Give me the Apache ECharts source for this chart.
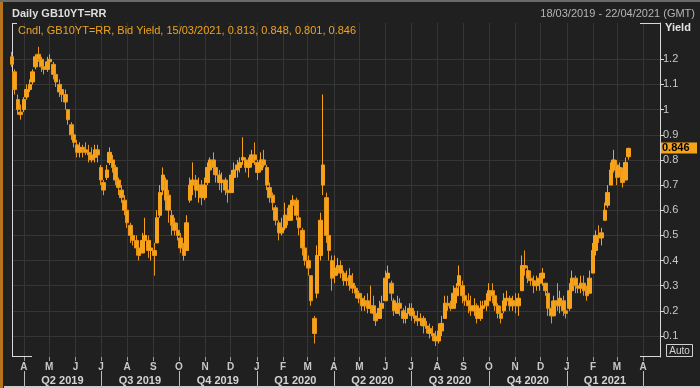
<!DOCTYPE html>
<html><head><meta charset="utf-8">
<script src="https://cdn.jsdelivr.net/npm/echarts@6/dist/echarts.min.js"></script>
<style>html,body{margin:0;padding:0;background:#202020;}#c{width:700px;height:388px;}</style>
</head><body><div id="c"></div>
<script>
const dates = [
'2019-03-18','2019-03-21','2019-03-25','2019-03-28','2019-04-01','2019-04-04','2019-04-08','2019-04-11','2019-04-15','2019-04-18','2019-04-22','2019-04-25','2019-04-29',
'2019-05-02','2019-05-06','2019-05-09','2019-05-13','2019-05-16','2019-05-20','2019-05-23','2019-05-27','2019-05-30',
'2019-06-03','2019-06-06','2019-06-10','2019-06-13','2019-06-17','2019-06-20','2019-06-24','2019-06-27',
'2019-07-01','2019-07-04','2019-07-08','2019-07-11','2019-07-15','2019-07-18','2019-07-22','2019-07-25','2019-07-29',
'2019-08-01','2019-08-05','2019-08-08','2019-08-12','2019-08-15','2019-08-19','2019-08-22','2019-08-26','2019-08-29',
'2019-09-02','2019-09-05','2019-09-09','2019-09-12','2019-09-16','2019-09-19','2019-09-23','2019-09-26','2019-09-30',
'2019-10-03','2019-10-07','2019-10-10','2019-10-14','2019-10-17','2019-10-21','2019-10-24','2019-10-28','2019-10-31',
'2019-11-04','2019-11-07','2019-11-11','2019-11-14','2019-11-18','2019-11-21','2019-11-25','2019-11-28',
'2019-12-02','2019-12-05','2019-12-09','2019-12-12','2019-12-16','2019-12-19','2019-12-23','2019-12-26','2019-12-30',
'2020-01-02','2020-01-06','2020-01-09','2020-01-13','2020-01-16','2020-01-20','2020-01-23','2020-01-27','2020-01-30',
'2020-02-03','2020-02-06','2020-02-10','2020-02-13','2020-02-17','2020-02-20','2020-02-24','2020-02-27',
'2020-03-02','2020-03-05','2020-03-09','2020-03-12','2020-03-16','2020-03-19','2020-03-23','2020-03-26','2020-03-30',
'2020-04-02','2020-04-06','2020-04-09','2020-04-13','2020-04-16','2020-04-20','2020-04-23','2020-04-27','2020-04-30',
'2020-05-04','2020-05-07','2020-05-11','2020-05-14','2020-05-18','2020-05-21','2020-05-25','2020-05-28',
'2020-06-01','2020-06-04','2020-06-08','2020-06-11','2020-06-15','2020-06-18','2020-06-22','2020-06-25','2020-06-29',
'2020-07-02','2020-07-06','2020-07-09','2020-07-13','2020-07-16','2020-07-20','2020-07-23','2020-07-27','2020-07-30',
'2020-08-03','2020-08-06','2020-08-10','2020-08-13','2020-08-17','2020-08-20','2020-08-24','2020-08-27','2020-08-31',
'2020-09-03','2020-09-07','2020-09-10','2020-09-14','2020-09-17','2020-09-21','2020-09-24','2020-09-28',
'2020-10-01','2020-10-05','2020-10-08','2020-10-12','2020-10-15','2020-10-19','2020-10-22','2020-10-26','2020-10-29',
'2020-11-02','2020-11-05','2020-11-09','2020-11-12','2020-11-16','2020-11-19','2020-11-23','2020-11-26','2020-11-30',
'2020-12-03','2020-12-07','2020-12-10','2020-12-14','2020-12-17','2020-12-21','2020-12-24','2020-12-28','2020-12-31',
'2021-01-04','2021-01-07','2021-01-11','2021-01-14','2021-01-18','2021-01-21','2021-01-25','2021-01-28',
'2021-02-01','2021-02-04','2021-02-08','2021-02-11','2021-02-15','2021-02-18','2021-02-22','2021-02-25',
'2021-03-01','2021-03-04','2021-03-08','2021-03-11','2021-03-15'
];
const opens = [
1.21,1.15,1.04,0.99,1.00,1.05,1.08,1.11,1.17,1.22,
1.20,1.17,1.16,1.19,1.18,1.14,1.10,1.08,1.06,1.00,
0.94,0.90,0.86,0.83,0.85,0.84,0.83,0.82,0.81,0.84,
0.77,0.71,0.73,0.79,0.80,0.77,0.72,0.68,0.64,0.60,
0.54,0.50,0.48,0.45,0.43,0.48,0.48,0.44,0.44,0.47,
0.58,0.68,0.72,0.66,0.58,0.55,0.52,0.49,0.45,0.44,
0.64,0.70,0.72,0.68,0.70,0.65,0.71,0.76,0.80,0.77,
0.74,0.71,0.72,0.68,0.67,0.73,0.76,0.77,0.80,0.80,
0.77,0.79,0.82,0.79,0.76,0.80,0.77,0.69,0.66,0.61,
0.55,0.51,0.53,0.58,0.56,0.62,0.64,0.57,0.52,0.45,
0.40,0.34,0.17,0.27,0.42,0.70,0.65,0.50,0.40,0.34,
0.37,0.38,0.35,0.32,0.34,0.31,0.29,0.27,0.25,0.22,
0.24,0.21,0.22,0.19,0.17,0.21,0.24,0.33,0.31,0.24,
0.19,0.23,0.20,0.17,0.19,0.21,0.18,0.17,0.16,0.17,
0.14,0.13,0.11,0.10,0.08,0.12,0.17,0.23,0.22,0.21,
0.26,0.30,0.30,0.26,0.24,0.22,0.20,0.22,0.17,0.21,
0.22,0.24,0.28,0.26,0.22,0.19,0.20,0.24,0.25,0.22,
0.24,0.22,0.28,0.38,0.36,0.33,0.32,0.30,0.31,0.33,
0.31,0.27,0.21,0.18,0.24,0.22,0.24,0.20,0.21,0.28,
0.33,0.30,0.29,0.31,0.28,0.27,0.35,0.44,0.50,0.49,
0.56,0.62,0.70,0.76,0.78,0.74,0.76,0.72,0.813
];
const highs = [
1.23,1.16,1.06,1.02,1.05,1.10,1.12,1.16,1.22,1.25,
1.21,1.19,1.21,1.22,1.19,1.15,1.12,1.10,1.08,1.00,
0.95,0.91,0.88,0.87,0.86,0.87,0.86,0.85,0.86,0.86,
0.78,0.72,0.78,0.85,0.82,0.78,0.73,0.70,0.66,0.61,
0.55,0.52,0.50,0.47,0.51,0.57,0.50,0.48,0.47,0.60,
0.70,0.77,0.73,0.68,0.60,0.57,0.55,0.51,0.47,0.58,
0.73,0.79,0.74,0.73,0.72,0.73,0.79,0.81,0.83,0.79,
0.76,0.75,0.73,0.71,0.76,0.79,0.80,0.81,0.89,0.81,
0.81,0.84,0.87,0.80,0.83,0.84,0.78,0.71,0.67,0.62,
0.56,0.57,0.63,0.61,0.64,0.66,0.65,0.58,0.53,0.48,
0.42,0.34,0.18,0.46,0.59,1.06,0.67,0.55,0.42,0.42,
0.41,0.40,0.36,0.36,0.37,0.35,0.30,0.28,0.27,0.26,
0.27,0.30,0.26,0.22,0.24,0.26,0.36,0.38,0.32,0.25,
0.26,0.25,0.21,0.22,0.23,0.23,0.20,0.20,0.19,0.18,
0.16,0.15,0.14,0.12,0.15,0.18,0.26,0.26,0.24,0.30,
0.31,0.38,0.32,0.28,0.27,0.26,0.25,0.23,0.24,0.24,
0.27,0.31,0.31,0.27,0.23,0.22,0.27,0.28,0.26,0.26,
0.27,0.27,0.42,0.44,0.38,0.36,0.34,0.34,0.35,0.37,
0.31,0.28,0.24,0.26,0.31,0.28,0.26,0.24,0.31,0.36,
0.34,0.32,0.34,0.34,0.30,0.36,0.47,0.52,0.54,0.53,
0.63,0.70,0.79,0.84,0.80,0.79,0.77,0.81,0.848
];
const lows = [
1.17,1.06,0.98,0.96,0.99,1.04,1.07,1.10,1.16,1.19,
1.15,1.14,1.15,1.17,1.12,1.09,1.05,1.03,1.00,0.94,
0.88,0.85,0.81,0.81,0.81,0.82,0.79,0.79,0.79,0.79,
0.70,0.66,0.72,0.78,0.75,0.70,0.66,0.63,0.58,0.53,
0.47,0.46,0.42,0.40,0.43,0.47,0.41,0.40,0.34,0.47,
0.57,0.66,0.60,0.55,0.50,0.50,0.48,0.43,0.40,0.44,
0.63,0.66,0.65,0.63,0.62,0.64,0.70,0.74,0.74,0.71,
0.68,0.67,0.66,0.63,0.67,0.71,0.73,0.75,0.78,0.75,
0.73,0.77,0.78,0.72,0.75,0.77,0.68,0.63,0.60,0.54,
0.48,0.50,0.52,0.54,0.56,0.59,0.56,0.50,0.42,0.38,
0.34,0.22,0.07,0.25,0.40,0.66,0.47,0.40,0.28,0.31,
0.34,0.33,0.30,0.30,0.28,0.27,0.25,0.23,0.20,0.20,
0.19,0.19,0.16,0.14,0.17,0.19,0.24,0.30,0.24,0.18,
0.19,0.18,0.15,0.15,0.18,0.16,0.15,0.14,0.14,0.11,
0.11,0.09,0.08,0.06,0.07,0.10,0.17,0.20,0.20,0.21,
0.23,0.29,0.23,0.22,0.19,0.18,0.18,0.15,0.16,0.19,
0.20,0.24,0.23,0.20,0.17,0.15,0.19,0.22,0.20,0.20,
0.19,0.18,0.28,0.34,0.31,0.30,0.27,0.28,0.28,0.30,
0.26,0.18,0.15,0.18,0.20,0.19,0.18,0.17,0.20,0.28,
0.27,0.27,0.27,0.26,0.24,0.27,0.35,0.42,0.47,0.46,
0.56,0.61,0.70,0.75,0.70,0.73,0.69,0.72,0.801
];
const closes = [
1.18,1.08,1.00,0.98,1.04,1.08,1.10,1.15,1.21,1.20,
1.17,1.16,1.19,1.20,1.14,1.11,1.07,1.06,1.03,0.96,
0.90,0.87,0.83,0.85,0.84,0.83,0.82,0.80,0.84,0.82,
0.72,0.68,0.76,0.83,0.77,0.72,0.69,0.65,0.60,0.55,
0.50,0.48,0.45,0.42,0.48,0.50,0.44,0.45,0.42,0.57,
0.67,0.74,0.64,0.60,0.54,0.52,0.50,0.45,0.42,0.55,
0.70,0.72,0.68,0.70,0.65,0.70,0.77,0.80,0.77,0.74,
0.71,0.72,0.68,0.67,0.74,0.76,0.78,0.79,0.81,0.77,
0.79,0.82,0.80,0.75,0.80,0.78,0.70,0.65,0.63,0.56,
0.51,0.53,0.58,0.56,0.62,0.64,0.58,0.53,0.45,0.40,
0.37,0.24,0.11,0.42,0.56,0.78,0.50,0.44,0.33,0.37,
0.38,0.35,0.32,0.33,0.30,0.29,0.27,0.25,0.22,0.24,
0.21,0.22,0.19,0.16,0.21,0.23,0.33,0.35,0.27,0.20,
0.23,0.21,0.17,0.19,0.21,0.18,0.17,0.16,0.17,0.14,
0.13,0.11,0.10,0.08,0.12,0.15,0.23,0.22,0.21,0.27,
0.29,0.34,0.26,0.24,0.22,0.20,0.22,0.17,0.21,0.22,
0.24,0.28,0.26,0.22,0.19,0.17,0.24,0.25,0.22,0.24,
0.22,0.25,0.38,0.37,0.33,0.32,0.30,0.31,0.33,0.35,
0.28,0.21,0.18,0.24,0.22,0.25,0.20,0.19,0.28,0.33,
0.30,0.29,0.31,0.28,0.26,0.33,0.44,0.50,0.49,0.51,
0.60,0.67,0.76,0.80,0.73,0.77,0.71,0.79,0.846
];
const monthTicks = ['2019-04-01','2019-05-01','2019-06-01','2019-07-01','2019-08-01','2019-09-01','2019-10-01','2019-11-01','2019-12-01',
'2020-01-01','2020-02-01','2020-03-01','2020-04-01','2020-05-01','2020-06-01','2020-07-01','2020-08-01','2020-09-01','2020-10-01','2020-11-01','2020-12-01',
'2021-01-01','2021-02-01','2021-03-01','2021-04-01'];
const monthLetters = ['J','F','M','A','M','J','J','A','S','O','N','D'];
const quarterTicks = ['2019-04-01','2019-07-01','2019-10-01','2020-01-01','2020-04-01','2020-07-01','2020-10-01','2021-01-01','2021-04-01'];
const quarterLabels = ['Q2 2019','Q3 2019','Q4 2019','Q1 2020','Q2 2020','Q3 2020','Q4 2020','Q1 2021'];
const yTicks = [0.1,0.2,0.3,0.4,0.5,0.6,0.7,0.8,0.9,1,1.1,1.2];
const chartTitle = 'Daily GB10YT=RR';
const rangeText = '18/03/2019 - 22/04/2021 (GMT)';
const legendText = 'Cndl, GB10YT=RR, Bid Yield, 15/03/2021, 0.813, 0.848, 0.801, 0.846';
const yName = 'Yield';

const parse = s => { const p = s.split('-').map(Number); return Date.UTC(p[0], p[1]-1, p[2]); };
const candleData = dates.map((d, i) => [parse(d), opens[i], closes[i], lows[i], highs[i]]);
const monthVals = monthTicks.map(parse);
const quarterVals = quarterTicks.map(parse);
const quarterMids = quarterLabels.map((_, i) => (quarterVals[i] + quarterVals[i+1]) / 2);
const ORANGE = '#f7a21b';
const FONT = '"Liberation Sans", Arial, sans-serif';

const chart = echarts.init(document.getElementById('c'), null, {renderer: 'canvas'});
const xMin = parse('2019-03-18'), xMax = parse('2021-04-21');
chart.setOption({
  backgroundColor: '#202020',
  animation: false,
  textStyle: {fontFamily: FONT},
  grid: {left: 12, right: 40, top: 23, bottom: 31, show: false},
  xAxis: [{
    type: 'value', min: xMin, max: xMax, position: 'bottom',
    axisLine: {show: false},
    axisTick: {show: true, length: 4, customValues: monthVals, lineStyle: {color: '#9a9a9a'}},
    axisLabel: {customValues: monthVals, margin: 5, color: '#c8c8c8', fontSize: 10, fontWeight: 'bold', fontFamily: FONT,
      formatter: v => monthLetters[new Date(v).getUTCMonth()]},
    splitLine: {show: true, lineStyle: {color: '#363636', width: 1}}
  }, {
    type: 'value', min: xMin, max: xMax, position: 'bottom', offset: 14,
    axisLine: {show: false},
    axisTick: {show: true, length: 17, customValues: quarterVals, lineStyle: {color: '#bdbdbd'}},
    axisLabel: {customValues: quarterMids, margin: 4, color: '#d4d4d4', fontSize: 11, fontWeight: 'bold', fontFamily: FONT,
      formatter: v => { let best = 0; quarterMids.forEach((m, i) => { if (Math.abs(m - v) < Math.abs(quarterMids[best] - v)) best = i; }); return quarterLabels[best]; }},
    splitLine: {show: false}
  }],
  yAxis: {
    type: 'value', position: 'right', min: 0.0165, max: 1.3443,
    axisLine: {show: true, lineStyle: {color: '#d8d8d8'}},
    axisTick: {show: true, length: 4, customValues: yTicks, lineStyle: {color: '#d8d8d8'}},
    axisLabel: {customValues: yTicks, margin: 3, color: '#c8c8c8', fontSize: 11, fontFamily: FONT, formatter: v => String(v)},
    splitLine: {show: true, lineStyle: {color: '#363636', width: 1}}
  },
  series: [{
    type: 'candlestick',
    data: candleData,
    encode: {x: 0, y: [1, 2, 3, 4]},
    barWidth: 4,
    clip: true,
    itemStyle: {color: ORANGE, color0: ORANGE, borderColor: ORANGE, borderColor0: '#e8951a', borderWidth: 1}
  }]
});

const lastClose = closes[closes.length - 1];
const py = chart.convertToPixel({yAxisIndex: 0}, lastClose);
const line = (x1, y1, x2, y2, c) => ({type: 'line', shape: {x1, y1, x2, y2}, style: {stroke: c || '#d8d8d8', lineWidth: 1}, silent: true});
chart.setOption({
  graphic: [
    {type: 'rect', shape: {x: 0, y: 0, width: 3, height: 388}, style: {fill: '#b8741c'}},
    {type: 'rect', shape: {x: 0, y: 0, width: 700, height: 2}, style: {fill: '#6a6a6a'}},
    {type: 'rect', shape: {x: 4, y: 386, width: 696, height: 2}, style: {fill: '#cfcfcf'}},
    {type: 'text', style: {x: 12, y: 14, text: chartTitle, fill: '#dedede', font: 'bold 11px ' + FONT, textVerticalAlign: 'middle'}},
    {type: 'text', style: {x: 695, y: 14, text: rangeText, fill: '#b4b4b4', font: '11px ' + FONT, textAlign: 'right', textVerticalAlign: 'middle'}},
    {type: 'text', style: {x: 18, y: 31, text: legendText, fill: '#eea322', font: '11px ' + FONT, textVerticalAlign: 'middle'}},
    {type: 'text', style: {x: 665, y: 28, text: yName, fill: '#e4e4e4', font: 'bold 11px ' + FONT, textVerticalAlign: 'middle'}},
    line(12.5, 23, 12.5, 357),
    line(12, 23.5, 17, 23.5),
    line(12, 356.5, 32, 356.5),
    line(640, 23.5, 660, 23.5),
    line(640, 356.5, 660, 356.5),
    {type: 'rect', shape: {x: 660, y: Math.round(py) - 5.5, width: 37, height: 11}, style: {fill: ORANGE}},
    {type: 'text', style: {x: 662, y: Math.round(py), text: String(lastClose), fill: '#000', font: 'bold 11px ' + FONT, textVerticalAlign: 'middle'}},
    {type: 'rect', shape: {x: 666.5, y: 344.5, width: 26, height: 12}, style: {fill: 'none', stroke: '#d0d0d0', lineWidth: 1}},
    {type: 'text', style: {x: 679.5, y: 351, text: 'Auto', fill: '#d0d0d0', font: '10px ' + FONT, textAlign: 'center', textVerticalAlign: 'middle'}}
  ]
});
</script></body></html>
